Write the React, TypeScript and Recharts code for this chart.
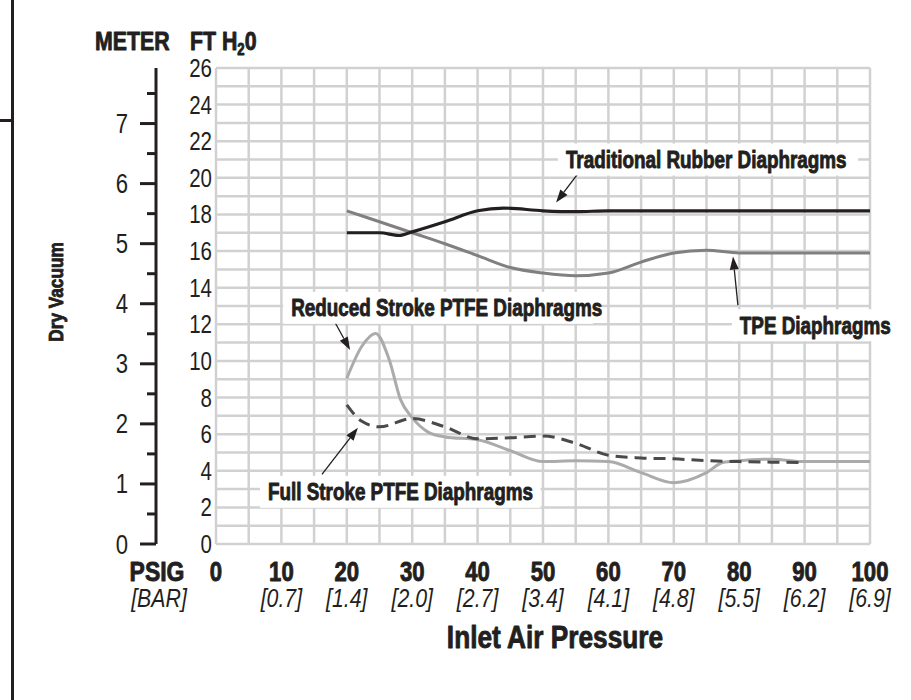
import React from 'react';
import {
  LineChart,
  Line,
  XAxis,
  YAxis,
  CartesianGrid,
  ReferenceLine,
  ReferenceDot,
} from 'recharts';

const FONT = "'Liberation Sans', Arial, sans-serif";
const INK = '#231f20';
// the original artwork uses a heavy condensed face; squeeze Liberation Sans to match
const SQUEEZE = 0.82;

// x axis: inlet air pressure (psig) and the bar equivalents
const psiTicks = [0, 5, 10, 15, 20, 25, 30, 35, 40, 45, 50, 55, 60, 65, 70, 75, 80, 85, 90, 95, 100];
const barLabels = ['', '[0.7]', '[1.4]', '[2.0]', '[2.7]', '[3.4]', '[4.1]', '[4.8]', '[5.5]', '[6.2]', '[6.9]'];

// y axes: dry vacuum in ft of water and in meters
const ftTicks = [0, 1, 2, 3, 4, 5, 6, 7, 8, 9, 10, 11, 12, 13, 14, 15, 16, 17, 18, 19, 20, 21, 22, 23, 24, 25, 26];
const meterTicks = [0, 0.5, 1, 1.5, 2, 2.5, 3, 3.5, 4, 4.5, 5, 5.5, 6, 6.5, 7, 7.5];
const FT_PER_METER = 3.28084;

// series (ft H2O vs psig)
const rubberPsi = [20, 25, 28, 30, 35, 40, 44, 50, 55, 60, 70, 80, 90, 100];
const rubberFt = [17.0, 17.0, 16.85, 17.05, 17.6, 18.2, 18.35, 18.2, 18.15, 18.2, 18.2, 18.2, 18.2, 18.2];

const tpePsi = [20, 25, 30, 35, 40, 45, 50, 55, 60, 65, 70, 75, 80, 90, 100];
const tpeFt = [18.2, 17.6, 17.0, 16.4, 15.75, 15.1, 14.8, 14.65, 14.8, 15.4, 15.9, 16.05, 15.9, 15.9, 15.9];

const reducedPsi = [20, 22.3, 24.4, 26.5, 28.2, 30, 32.5, 35, 40, 45, 50, 55, 60, 65, 70, 75, 77.5, 80, 85, 90, 100];
const reducedFt = [9.05, 10.8, 11.5, 10.05, 7.9, 6.9, 6.1, 5.85, 5.7, 5.1, 4.5, 4.55, 4.5, 3.9, 3.35, 3.9, 4.45, 4.55, 4.63, 4.5, 4.5];

const fullPsi = [20, 22.3, 25, 30, 35, 40, 45, 50, 55, 60, 65, 70, 75, 80, 85, 90];
const fullFt = [7.6, 6.7, 6.4, 6.85, 6.4, 5.75, 5.8, 5.9, 5.5, 4.85, 4.7, 4.65, 4.55, 4.5, 4.47, 4.45];

// callouts: label anchor (left edge, middle) and arrow tail -> head, in psig / ft
const calloutText = [
  'Traditional Rubber Diaphragms',
  'TPE Diaphragms',
  'Reduced Stroke PTFE Diaphragms',
  'Full Stroke PTFE Diaphragms',
];
const calloutAt = [
  [53.5, 21.0],
  [80.1, 11.95],
  [11.5, 12.9],
  [7.95, 2.85],
];
const arrowFrom = [
  [55.7, 20.4],
  [79.8, 13.05],
  [18.2, 12.1],
  [16.2, 3.8],
];
const arrowTo = [
  [52.0, 18.65],
  [79.05, 15.7],
  [20.5, 10.6],
  [21.7, 6.35],
];

const toRows = (xs: number[], ys: number[]) => xs.map((psi, i) => ({ psi, ft: ys[i] }));

type NarrowProps = {
  x: number;
  y: number;
  size: number;
  anchor?: 'start' | 'middle' | 'end';
  bold?: boolean;
  italic?: boolean;
  rotate?: number;
  children: React.ReactNode;
};

// text drawn with a horizontal squeeze around its anchor point
const Narrow = ({ x, y, size, anchor = 'start', bold, italic, rotate = 0, children }: NarrowProps) => (
  <text
    transform={`translate(${x} ${y}) rotate(${rotate}) scale(${SQUEEZE} 1)`}
    textAnchor={anchor}
    fontSize={size}
    fontWeight={bold ? 'bold' : 'normal'}
    fontStyle={italic ? 'italic' : 'normal'}
    fontFamily={FONT}
    fill={INK}
    stroke={bold ? INK : 'none'}
    strokeWidth={bold ? 0.9 : 0}
    strokeLinejoin="round"
  >
    {children}
  </text>
);

const FtTick = (props: any) => {
  const { x, y, payload } = props;
  if (payload.value % 2 !== 0) return <g />;
  return (
    <Narrow x={x} y={y + 9} size={25} anchor="end">
      {payload.value}
    </Narrow>
  );
};

const MeterTick = (props: any) => {
  const { x, y, payload } = props;
  const major = Number.isInteger(payload.value);
  return (
    <g>
      <line x1={x + (major ? 12 : 19)} x2={x + 28} y1={y} y2={y} stroke={INK} strokeWidth={3} />
      {major && (
        <Narrow x={x} y={y + 9.5} size={27} anchor="end">
          {payload.value}
        </Narrow>
      )}
    </g>
  );
};

const PsiTick = (props: any) => {
  const { x, y, payload } = props;
  if (payload.value % 10 !== 0) return <g />;
  return (
    <g>
      <Narrow x={x} y={y + 37} size={27} anchor="middle" bold>
        {payload.value}
      </Narrow>
      <Narrow x={x} y={y + 63} size={26} anchor="middle" italic>
        {barLabels[payload.value / 10]}
      </Narrow>
    </g>
  );
};

const xAxisLabels = (props: any) => {
  const { x, y, width } = props.viewBox;
  return (
    <g>
      <Narrow x={x - 59} y={y + 37} size={28} anchor="middle" bold>PSIG</Narrow>
      <Narrow x={x - 57} y={y + 63} size={26} anchor="middle" italic>[BAR]</Narrow>
      <Narrow x={x + width / 2 + 12} y={y + 104} size={32} anchor="middle" bold>
        Inlet Air Pressure
      </Narrow>
    </g>
  );
};

const yAxisLabels = (props: any) => {
  const { x, y, height } = props.viewBox;
  const cy = y + height / 2 - 14;
  return (
    <g>
      <Narrow x={x + 63} y={cy} size={21} anchor="middle" bold rotate={-90}>
        Dry Vacuum
      </Narrow>
      <Narrow x={x + 95} y={y - 18} size={26} bold>METER</Narrow>
      <Narrow x={x + 190} y={y - 18} size={26} bold>
        FT H<tspan fontSize={16} dy={5}>2</tspan><tspan dy={-5}>0</tspan>
      </Narrow>
    </g>
  );
};

const Callout = (text: string) => (props: any) => {
  const { cx, cy } = props;
  const w = text.length * 9.8;
  return (
    <g>
      <rect x={cx - 8} y={cy - 16} width={w + 16} height={32} fill="#ffffff" />
      <Narrow x={cx} y={cy + 8.5} size={23} bold>
        {text}
      </Narrow>
    </g>
  );
};

const Arrow = (props: any) => {
  const { x1, y1, x2, y2 } = props;
  const a = Math.atan2(y2 - y1, x2 - x1);
  const len = 13;
  const half = 4.5;
  const bx = x2 - len * Math.cos(a);
  const by = y2 - len * Math.sin(a);
  const px = -Math.sin(a) * half;
  const py = Math.cos(a) * half;
  return (
    <g>
      <line x1={x1} y1={y1} x2={bx} y2={by} stroke={INK} strokeWidth={1.3} />
      <polygon points={`${x2},${y2} ${bx + px},${by + py} ${bx - px},${by - py}`} fill={INK} />
    </g>
  );
};

export default function App() {
  return (
    <div style={{ position: 'absolute', left: 0, top: 0, width: 911, height: 700, background: '#fff' }}>
      <div style={{ position: 'absolute', left: 11, top: 0, width: 3, height: 700, background: INK }} />
      <div style={{ position: 'absolute', left: 0, top: 119, width: 12, height: 3, background: INK }} />
      <LineChart width={911} height={700} margin={{ top: 68, right: 41, bottom: 76, left: 0 }}>
        <CartesianGrid yAxisId="ft" stroke="#d1d1d1" strokeWidth={2.5} />
        <XAxis
          type="number"
          dataKey="psi"
          domain={[0, 100]}
          ticks={psiTicks}
          interval={0}
          height={80}
          axisLine={false}
          tickLine={false}
          tickSize={0}
          tickMargin={0}
          tick={<PsiTick />}
          label={xAxisLabels}
        />
        <YAxis
          yAxisId="ft"
          type="number"
          domain={[0, 26]}
          ticks={ftTicks}
          interval={0}
          width={60}
          axisLine={false}
          tickLine={false}
          tickSize={0}
          tickMargin={4}
          tick={<FtTick />}
        />
        <YAxis
          yAxisId="m"
          type="number"
          domain={[0, 26 / FT_PER_METER]}
          ticks={meterTicks}
          interval={0}
          width={156}
          allowDataOverflow
          axisLine={{ stroke: INK, strokeWidth: 3 }}
          tickLine={false}
          tickSize={16}
          tickMargin={12}
          tick={<MeterTick />}
          label={yAxisLabels}
        />
        <Line
          yAxisId="ft"
          data={toRows(tpePsi, tpeFt)}
          dataKey="ft"
          type="monotone"
          stroke="#808080"
          strokeWidth={3}
          dot={false}
          isAnimationActive={false}
        />
        <Line
          yAxisId="ft"
          data={toRows(rubberPsi, rubberFt)}
          dataKey="ft"
          type="monotone"
          stroke={INK}
          strokeWidth={3.2}
          dot={false}
          isAnimationActive={false}
        />
        <Line
          yAxisId="ft"
          data={toRows(reducedPsi, reducedFt)}
          dataKey="ft"
          type="monotone"
          stroke="#ababab"
          strokeWidth={3}
          dot={false}
          isAnimationActive={false}
        />
        <Line
          yAxisId="ft"
          data={toRows(fullPsi, fullFt)}
          dataKey="ft"
          type="monotone"
          stroke="#4a4a4a"
          strokeWidth={3}
          strokeDasharray="12 7"
          dot={false}
          isAnimationActive={false}
        />
        {calloutText.map((t, i) => (
          <ReferenceDot
            key={`c-${i}`}
            yAxisId="ft"
            x={calloutAt[i][0]}
            y={calloutAt[i][1]}
            r={0}
            shape={Callout(t)}
          />
        ))}
        {arrowFrom.map((f, i) => (
          <ReferenceLine
            key={`a-${i}`}
            yAxisId="ft"
            segment={[
              { x: f[0], y: f[1] },
              { x: arrowTo[i][0], y: arrowTo[i][1] },
            ]}
            shape={Arrow}
          />
        ))}
      </LineChart>
    </div>
  );
}
